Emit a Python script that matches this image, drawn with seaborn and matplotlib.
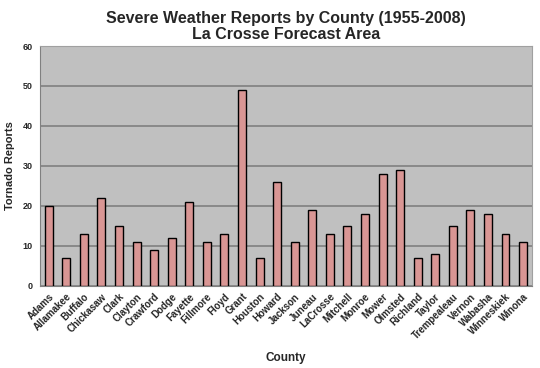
import matplotlib
matplotlib.use('Agg')
import matplotlib.pyplot as plt
import numpy as np
import seaborn as sns

condados = ['Adams', 'Allamakee', 'Buffalo', 'Chickasaw', 'Clark', 'Clayton', 'Crawford',
            'Dodge', 'Fayette', 'Fillmore', 'Floyd', 'Grant', 'Houston', 'Howard',
            'Jackson', 'Juneau', 'LaCrosse', 'Mitchell', 'Monroe', 'Mower', 'Olmsted',
            'Richland', 'Taylor', 'Trempealeau', 'Vernon', 'Wabasha', 'Winneskiek', 'Winona']
reportes = [20, 7, 13, 22, 15, 11, 9, 12, 21, 11, 13, 49, 7, 26,
            11, 19, 13, 15, 18, 28, 29, 7, 8, 15, 19, 18, 13, 11]

titulo = 'Severe Weather Reports by County (1955-2008)\nLa Crosse Forecast Area'

sns.set_style('white')
plt.rcParams['font.family'] = ['Liberation Sans', 'DejaVu Sans']
plt.rcParams['font.weight'] = 'bold'

fig = plt.figure(figsize=(5.4, 3.68), dpi=100)
axes = fig.add_axes([0.074, 0.223, 0.911, 0.652])
axes.set_facecolor('#C0C0C0')

sns.barplot(x=condados, y=reportes, color='#D99694', edgecolor='black',
            linewidth=1.0, width=0.45, saturation=1, ax=axes, zorder=3)

axes.set_ylim(0, 60)
axes.set_xlim(-0.5, len(condados) - 0.5)
axes.set_yticks(range(0, 61, 10))
axes.yaxis.grid(True, color='#808080', linewidth=1.2, zorder=0)
axes.set_axisbelow(True)

for lado in ['top', 'right']:
    axes.spines[lado].set_color('#A0A0A0')
for lado in ['left', 'bottom']:
    axes.spines[lado].set_color('#808080')

axes.set_xticks(np.arange(len(condados)))
axes.set_xticklabels(condados, rotation=45, ha='right', rotation_mode='anchor',
                     fontsize=7, fontweight='bold')
axes.tick_params(axis='x', which='major', length=0, pad=4)
axes.set_xticks(np.arange(-0.5, len(condados), 1), minor=True)
axes.tick_params(axis='x', which='minor', length=3, color='#808080', direction='out')
axes.tick_params(axis='y', length=3, color='#808080', direction='out', labelsize=6.5, pad=2)
for t in axes.get_yticklabels():
    t.set_fontweight('bold')

axes.set_title(titulo, fontsize=11.5, fontweight='bold', pad=5, linespacing=1.05)
axes.set_xlabel('County', fontsize=8.5, fontweight='bold', labelpad=8)
axes.set_ylabel('Tornado Reports', fontsize=8, fontweight='bold', labelpad=6)

fig.savefig('out.png', dpi=100)
